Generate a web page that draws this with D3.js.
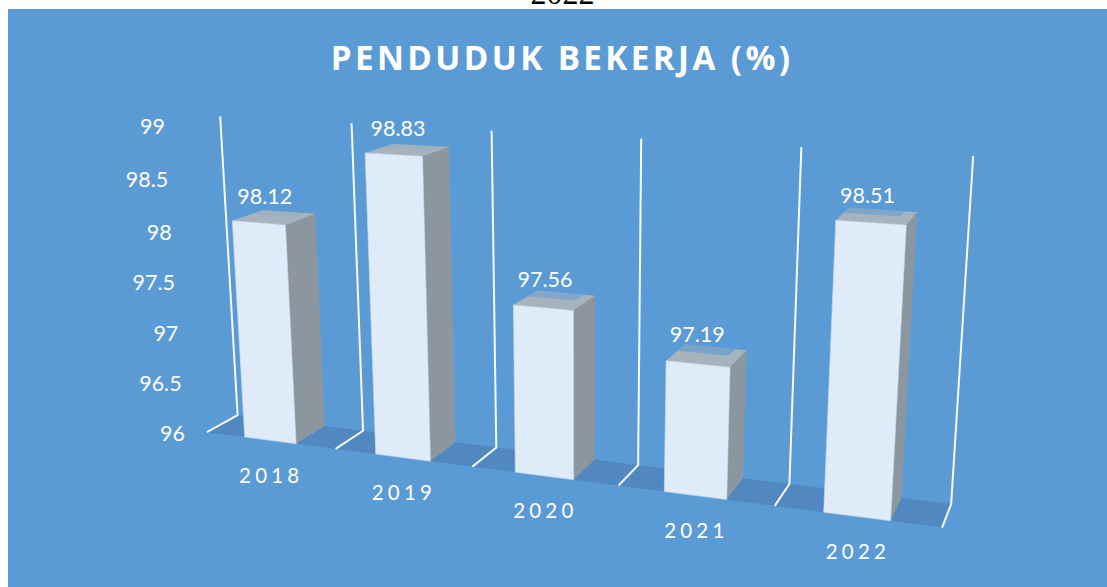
<!DOCTYPE html>
<html><head><meta charset="utf-8">
<style>html,body{margin:0;padding:0;background:#fff}svg{display:block}text{font-family:Lato,sans-serif}</style>
<script src="https://cdn.jsdelivr.net/npm/d3@7"></script></head><body><svg id="c" width="1107" height="587"></svg>
<script>
const categories=["2018","2019","2020","2021","2022"];
const values=[98.12,98.83,97.56,97.19,98.51];
const tickValues=[96,96.5,97,97.5,98,98.5,99];
const chartTitle="PENDUDUK BEKERJA (%)";
const pageCaption="2022";
const labelFade=[.12,.12,.5,.62,.55];
// perspective camera of the 3D chart: model (band position, height, depth) to pixels
const cam=[0.118417,-0.028953,0.038328,0.206958,0.003052,-0.314251,-0.003631,0.432174,-0.030366,-0.049680,0.032205];
const project=(u,v,w)=>{const d=cam[8]*u+cam[9]*v+cam[10]*w+1;return [1000*(cam[0]*u+cam[1]*v+cam[2]*w+cam[3])/d,1000*(cam[4]*u+cam[5]*v+cam[6]*w+cam[7])/d];};
const svg=d3.select("#c");
svg.append("rect").attr("x",8).attr("y",9).attr("width",1099).attr("height",578).attr("fill","#5B9BD5");
const uScale=d3.scaleBand().domain(categories).range([0,5]).paddingInner(.6).paddingOuter(.3);
const vScale=d3.scaleLinear().domain([96,99]).range([0,1]);
const closed=pts=>d3.line()(pts)+"Z";
svg.append("path").attr("d",closed([project(0,0,0),project(5,0,0),project(5,0,1),project(0,0,1)])).attr("fill","#5088BF");
svg.selectAll("path.post").data(d3.range(categories.length+1)).join("path").attr("class","post")
 .attr("d",i=>d3.line()([project(i,1,1),project(i,0,1),project(i,0,0)])).attr("fill","none").attr("stroke","#fff").attr("stroke-opacity",.95).attr("stroke-width",2);
const bars=svg.selectAll("g.bar").data(categories.map((c,i)=>({c,value:values[i],fade:labelFade[i]}))).join("g").attr("class","bar");
const bw=uScale.bandwidth();
bars.append("path").attr("fill","#8C969E").attr("d",d=>{const b=uScale(d.c)+bw,t=vScale(d.value);return closed([project(b,0,0),project(b,0,1),project(b,t,1),project(b,t,0)]);});
bars.append("path").attr("fill","#A7B3BC").attr("d",d=>{const a=uScale(d.c),b=a+bw,t=vScale(d.value);return closed([project(a,t,0),project(b,t,0),project(b,t,1),project(a,t,1)]);});
bars.append("path").attr("fill","#5B9BD5").attr("fill-opacity",d=>d.fade).attr("d",d=>{const a=uScale(d.c),t=vScale(d.value),e=a+bw*.82;return closed([project(a,t,.6),project(e,t,.6),project(e,t,1),project(a,t,1)]);});
bars.append("path").attr("fill","#DFEBF8").attr("stroke","#C9DAEC").attr("stroke-width",.6).attr("d",d=>{const a=uScale(d.c),b=a+bw,t=vScale(d.value);return closed([project(a,0,0),project(b,0,0),project(b,t,0),project(a,t,0)]);});
bars.append("text").each(function(d){const p=project(uScale(d.c)+bw/2,vScale(d.value),.5);d3.select(this).attr("x",p[0]-9.5).attr("y",p[1]-21);})
 .attr("dy",".35em").attr("text-anchor","middle").attr("fill","#fff").attr("font-size",21.5).text(d=>d3.format(".2f")(d.value));
bars.append("text").each(function(d){const q=project(uScale(d.c)+bw/2,0,0);d3.select(this).attr("x",q[0]+1).attr("y",q[1]+35);})
 .attr("dy",".35em").attr("text-anchor","middle").attr("fill","#fff").attr("font-size",20.5).attr("letter-spacing",4.2).text(d=>d.c);
const lx=d3.scaleLinear().domain([96,99]).range([185,165]),ly=d3.scaleLinear().domain([96,98,99]).range([433.5,232.5,126.5]);
svg.selectAll("text.tick").data(tickValues).join("text").attr("class","tick").attr("x",lx).attr("y",ly).attr("dy",".35em").attr("text-anchor","end").attr("fill","#fff").attr("font-size",21.5).text(d=>d);
svg.append("text").attr("x",562).attr("y",58).attr("dy",".35em").attr("text-anchor","middle").attr("fill","#fff").style("font-family","Open Sans").attr("font-size",33.2).attr("font-weight",700).attr("letter-spacing",3.4).text(chartTitle);
svg.append("text").attr("x",562.5).attr("y",4).attr("text-anchor","middle").attr("fill","#000").style("font-family","Liberation Serif").attr("font-size",32).text(pageCaption);
</script></body></html>
